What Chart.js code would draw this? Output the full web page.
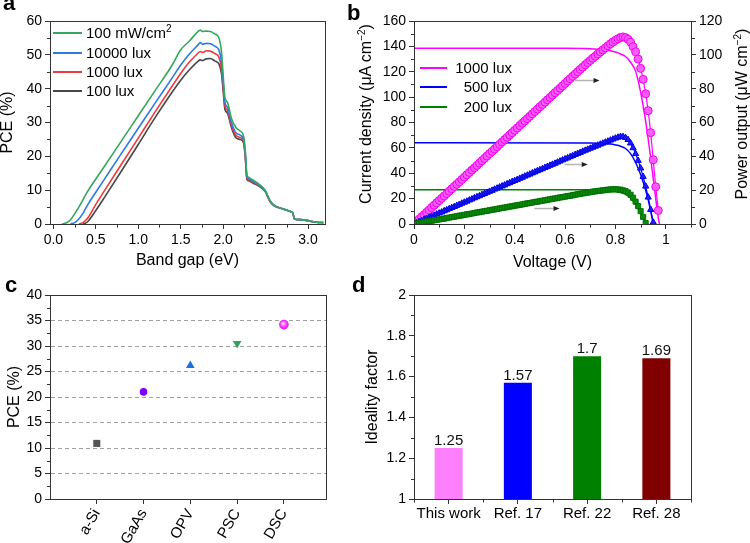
<!DOCTYPE html>
<html>
<head>
<meta charset="utf-8">
<script src="https://cdn.jsdelivr.net/npm/chart.js@4.4.1/dist/chart.umd.min.js"></script>
<style>
body { margin: 0; background: #fff; font-family: "Liberation Sans", Arial, sans-serif; color: #000; }
#fig { position: relative; width: 750px; height: 543px; overflow: hidden; }
canvas { position: absolute; }
.t { position: absolute; white-space: nowrap; line-height: 20px; font-size: 15px; }
.sw { position: absolute; height: 2px; }
.rot { position: absolute; width: 260px; height: 20px; line-height: 20px; text-align: center; font-size: 16px; transform: rotate(-90deg); white-space: nowrap; }
.lbl { position: absolute; font-weight: bold; font-size: 22px; line-height: 22px; }
sup { font-size: 10px; line-height: 0; vertical-align: super; }
</style>
</head>
<body>
<div id="fig">
  <canvas id="chartA" width="375" height="272" style="left:0;top:0"></canvas>
  <canvas id="chartB" width="395" height="272" style="left:355px;top:0"></canvas>
  <canvas id="chartC" width="375" height="273" style="left:0;top:270px"></canvas>
  <canvas id="chartD" width="395" height="273" style="left:355px;top:270px"></canvas>

  <div class="lbl" style="left:3px;top:-8px">a</div>
  <div class="lbl" style="left:347px;top:2px">b</div>
  <div class="lbl" style="left:5px;top:274px">c</div>
  <div class="lbl" style="left:352px;top:274px">d</div>

  <div class="sw" style="left:53px;top:32px;width:29px;background:#35a65f"></div>
  <div class="sw" style="left:53px;top:52px;width:29px;background:#2c7be5"></div>
  <div class="sw" style="left:53px;top:71px;width:29px;background:#f0393c"></div>
  <div class="sw" style="left:53px;top:90px;width:29px;background:#474747"></div>
  <div class="t" style="left:86px;top:23px">100 mW/cm<sup>2</sup></div>
  <div class="t" style="left:86px;top:43px">10000 lux</div>
  <div class="t" style="left:86px;top:62px">1000 lux</div>
  <div class="t" style="left:86px;top:81px">100 lux</div>

  <div class="sw" style="left:420px;top:67px;width:27px;background:#ff00ff"></div>
  <div class="sw" style="left:420px;top:86px;width:27px;background:#0000ff"></div>
  <div class="sw" style="left:420px;top:106px;width:27px;background:#008000"></div>
  <div class="t" style="left:440px;top:58px;width:72px;text-align:right">1000 lux</div>
  <div class="t" style="left:440px;top:77px;width:72px;text-align:right">500 lux</div>
  <div class="t" style="left:440px;top:97px;width:72px;text-align:right">200 lux</div>

  <div class="rot" style="left:236px;top:104px">Current density (μA cm<sup>−2</sup>)</div>
  <div class="rot" style="left:612px;top:104px">Power output (μW cm<sup>−2</sup>)</div>
</div>
<script>
const AXIS = "#333";
Chart.defaults.font.family = '"Liberation Sans", Arial, sans-serif';
Chart.defaults.font.size = 14;
Chart.defaults.color = "#000";

// ---- panel a: PCE limit vs band gap
const bandGap = [0, 0.1, 0.15, 0.2, 0.25, 0.3, 0.35, 0.4, 0.5, 0.6, 0.8, 1.0, 1.2, 1.4, 1.5, 1.6, 1.7,
    1.73, 1.76, 1.8, 1.85, 1.9, 1.95, 1.98, 2.0, 2.02, 2.05, 2.1, 2.15, 2.2, 2.24, 2.26, 2.28,
    2.3, 2.35, 2.4, 2.45, 2.5, 2.55, 2.6, 2.7, 2.8, 2.82, 2.84, 2.9, 3.0, 3.05, 3.1, 3.18];
const pceSun = [null, 0, 0.3, 1.2, 3, 5, 7.2, 9.5, 13.3, 17, 24.5, 32, 39.5, 47, 51.5, 54, 56.8,
    57.3, 56.9, 57, 56.9, 56.2, 55, 51, 44, 37.5, 36, 31, 28.5, 27.5, 26, 22, 14.5,
    13.8, 13, 12.2, 11.2, 9.8, 7, 5.6, 4.5, 3.6, 3.3, 1.5, 1.3, 1.0, 0.7, 0.5, 0.4];
const pce10000 = [null, null, null, 0, 0.4, 1.5, 3.2, 5.5, 9.4, 13.2, 20.8, 28.3, 35.8, 43.2, 47, 50.2, 52.8,
    53.6, 53.1, 53.4, 53.3, 52.6, 51.4, 48, 42, 36, 34.5, 29.8, 27, 26.3, 25, 21, 14,
    13.4, 12.6, 11.9, 11, 9.6, 6.9, 5.5, 4.5, 3.6, 3.3, 1.5, 1.3, 1.0, 0.7, 0.5, 0.4];
const pce1000 = [null, null, null, null, null, 0, 0.4, 1.6, 5.8, 9.8, 17.6, 25.4, 33.2, 40.8, 44.5, 47.8, 50.4,
    51, 50.7, 51.2, 51.1, 50.4, 49.3, 46, 40.5, 35, 33.6, 29, 26.2, 25.6, 24.5, 20.5, 13.6,
    13.1, 12.4, 11.7, 10.9, 9.5, 6.8, 5.5, 4.5, 3.6, 3.3, 1.5, 1.3, 1.0, 0.7, 0.5, 0.4];
const pce100 = [null, null, null, null, null, null, 0, 0.6, 4, 7.8, 15.6, 23.5, 31.5, 39, 42.5, 45.5, 48,
    48.5, 48.3, 48.8, 48.9, 48.2, 47.3, 44.5, 39.5, 34, 32.8, 28.3, 25.5, 25, 24, 20, 13.2,
    12.8, 12.1, 11.5, 10.7, 9.4, 6.7, 5.4, 4.5, 3.6, 3.3, 1.5, 1.3, 1.0, 0.7, 0.5, 0.4];
const bandGapTicks = [0, 0.5, 1, 1.5, 2, 2.5, 3];
const bandGapMinor = [0.25, 0.75, 1.25, 1.75, 2.25, 2.75];
const pceMinorA = [5, 15, 25, 35, 45, 55];

// ---- panel b: J-V and power curves
const voltage = [0, 0.01, 0.02, 0.03, 0.04, 0.05, 0.06, 0.07, 0.08, 0.09,
    0.1, 0.11, 0.12, 0.13, 0.14, 0.15, 0.16, 0.17, 0.18, 0.19,
    0.2, 0.21, 0.22, 0.23, 0.24, 0.25, 0.26, 0.27, 0.28, 0.29,
    0.3, 0.31, 0.32, 0.33, 0.34, 0.35, 0.36, 0.37, 0.38, 0.39,
    0.4, 0.41, 0.42, 0.43, 0.44, 0.45, 0.46, 0.47, 0.48, 0.49,
    0.5, 0.51, 0.52, 0.53, 0.54, 0.55, 0.56, 0.57, 0.58, 0.59,
    0.6, 0.61, 0.62, 0.63, 0.64, 0.65, 0.66, 0.67, 0.68, 0.69,
    0.7, 0.71, 0.72, 0.73, 0.74, 0.75, 0.76, 0.77, 0.78, 0.79,
    0.8, 0.81, 0.82, 0.83, 0.84, 0.85, 0.86, 0.87, 0.88, 0.89,
    0.9, 0.91, 0.92, 0.93, 0.94, 0.95, 0.96, 0.97];
const power1000 = [0, 1.4, 2.8, 4.2, 5.5, 6.9, 8.3, 9.7, 11.1, 12.5,
    13.9, 15.2, 16.6, 18, 19.4, 20.8, 22.2, 23.5, 24.9, 26.3,
    27.7, 29.1, 30.5, 31.9, 33.2, 34.6, 36, 37.4, 38.8, 40.2,
    41.6, 42.9, 44.3, 45.7, 47.1, 48.5, 49.9, 51.2, 52.6, 54,
    55.4, 56.8, 58.2, 59.6, 60.9, 62.3, 63.7, 65.1, 66.5, 67.9,
    69.3, 70.6, 72, 73.4, 74.8, 76.2, 77.6, 78.9, 80.3, 81.7,
    83.1, 84.5, 85.9, 87.3, 88.6, 90, 91.4, 92.7, 94.1, 95.4,
    96.7, 98, 99.2, 100.5, 101.7, 102.9, 104.1, 105.3, 106.5, 107.6,
    108.6, 109.5, 110.3, 110.6, 110.2, 109.2, 107.5, 104.8, 101.8, 97.5,
    92, 85.5, 77, 67, 54, 38, 22, 8];
const power500 = [0, 0.6, 1.3, 1.9, 2.6, 3.2, 3.8, 4.5, 5.1, 5.8,
    6.4, 7, 7.7, 8.3, 9, 9.6, 10.2, 10.9, 11.5, 12.2,
    12.8, 13.4, 14.1, 14.7, 15.4, 16, 16.6, 17.3, 17.9, 18.6,
    19.2, 19.8, 20.5, 21.1, 21.8, 22.4, 23, 23.7, 24.3, 25,
    25.6, 26.2, 26.9, 27.5, 28.2, 28.8, 29.4, 30.1, 30.7, 31.4,
    32, 32.6, 33.3, 33.9, 34.6, 35.2, 35.8, 36.5, 37.1, 37.8,
    38.4, 39, 39.7, 40.3, 41, 41.6, 42.2, 42.9, 43.5, 44.1,
    44.7, 45.3, 45.9, 46.5, 47.1, 47.7, 48.3, 48.9, 49.5, 50.1,
    50.7, 51.2, 51.6, 51.6, 51, 49.8, 47.8, 45, 41.5, 37.5,
    33, 28, 22.3, 15.8, 8.5, 1];
const power200 = [0, 0.3, 0.5, 0.8, 1.1, 1.4, 1.6, 1.9, 2.2, 2.4,
    2.7, 3, 3.2, 3.5, 3.8, 4.1, 4.3, 4.6, 4.9, 5.1,
    5.4, 5.7, 5.9, 6.2, 6.5, 6.8, 7, 7.3, 7.6, 7.8,
    8.1, 8.4, 8.6, 8.9, 9.2, 9.5, 9.7, 10, 10.3, 10.5,
    10.8, 11.1, 11.3, 11.6, 11.9, 12.2, 12.4, 12.7, 13, 13.2,
    13.5, 13.8, 14, 14.3, 14.6, 14.9, 15.1, 15.4, 15.7, 15.9,
    16.2, 16.5, 16.7, 17, 17.3, 17.6, 17.8, 18.1, 18.3, 18.6,
    18.8, 19.1, 19.3, 19.5, 19.7, 19.9, 20.1, 20.3, 20.4, 20.5,
    20.5, 20.4, 20.3, 19.9, 19.4, 18.6, 17.3, 15.5, 13.2, 10.6,
    7.6, 4.2, 0.5];
const jv1000V = [0, 0.6, 0.7, 0.75, 0.78, 0.8, 0.82, 0.84, 0.86, 0.88, 0.9, 0.91, 0.92, 0.93, 0.94, 0.95, 0.96, 0.97, 0.975];
const jv1000 = [138.5, 138.5, 138.2, 137.5, 136.5, 135.5, 134, 132, 127.5, 120.5, 104, 93, 81, 67, 52, 36, 20, 5, 0];
const jv500V = [0, 0.7, 0.75, 0.78, 0.8, 0.82, 0.84, 0.86, 0.88, 0.9, 0.91, 0.92, 0.93, 0.94, 0.95];
const jv500 = [64, 63.8, 63.5, 63, 62.3, 61.3, 59.5, 55.5, 48.5, 39, 33, 26.5, 19, 10, 0];
const jv200V = [0, 0.7, 0.75, 0.8, 0.84, 0.86, 0.88, 0.9, 0.91, 0.92];
const jv200 = [27, 26.9, 26.7, 25.8, 23.5, 20.5, 15.5, 8.6, 4.6, 0.5];
const voltTicks = [0, 0.2, 0.4, 0.6, 0.8, 1];
const voltMinor = [0.1, 0.3, 0.5, 0.7, 0.9, 1.1];
const currentMinor = [10, 30, 50, 70, 90, 110, 130, 150];
const powerMinor = [10, 30, 50, 70, 90, 110];
// arrows pointing at the right axis: [V start, V end, current-axis level]
const arrowSpots = [[0.637, 0.737, 113.5], [0.598, 0.69, 47.3], [0.478, 0.578, 12.6]];

// ---- panel c: PCE of indoor technologies
const techs = ["a-Si", "GaAs", "OPV", "PSC", "DSC"];
const techPce = [10.9, 21, 26.2, 30.5, 34.2];
const techPos = [1, 2, 3, 4, 5];
const pceMinorC = [2.5, 7.5, 12.5, 17.5, 22.5, 27.5, 32.5, 37.5];

// ---- panel d: ideality factor
const works = ["This work", "Ref. 17", "Ref. 22", "Ref. 28"];
const ideality = [1.25, 1.57, 1.7, 1.69];
const idealityText = ["1.25", "1.57", "1.7", "1.69"];
const idealityMinor = [1.1, 1.3, 1.5, 1.7, 1.9];
const workEdges = [-0.5, 0.5, 1.5, 2.5, 3.5];

const frame = {
    id: "frame",
    afterDraw(chart, args, opts) {
        const { ctx, chartArea: ca } = chart;
        ctx.save();
        ctx.strokeStyle = AXIS;
        ctx.lineWidth = 1;
        ctx.strokeRect(ca.left + 0.5, ca.top + 0.5, ca.right - ca.left, ca.bottom - ca.top);
        (opts.minor || []).forEach(([id, vals]) => {
            const s = chart.scales[id];
            ctx.beginPath();
            vals.forEach((v) => {
                const p = Math.round(s.getPixelForValue(v)) + 0.5;
                if (s.isHorizontal()) {
                    ctx.moveTo(p, ca.bottom); ctx.lineTo(p, ca.bottom + 3.5);
                } else if (s.position === "left") {
                    ctx.moveTo(ca.left, p); ctx.lineTo(ca.left - 3, p);
                } else {
                    ctx.moveTo(ca.right + 1, p); ctx.lineTo(ca.right + 4, p);
                }
            });
            ctx.stroke();
        });
        ctx.restore();
    },
};

const arrows = {
    id: "arrows",
    afterDatasetsDraw(chart) {
        const { ctx, scales } = chart;
        ctx.save();
        arrowSpots.forEach(([v1, v2, j]) => {
            const x1 = scales.x.getPixelForValue(v1);
            const x2 = scales.x.getPixelForValue(v2);
            const y = Math.round(scales.y.getPixelForValue(j)) + 0.5;
            ctx.strokeStyle = "#b5b5b5";
            ctx.lineWidth = 1.5;
            ctx.beginPath(); ctx.moveTo(x1, y); ctx.lineTo(x2 - 4, y); ctx.stroke();
            ctx.fillStyle = "#222";
            ctx.beginPath(); ctx.moveTo(x2, y); ctx.lineTo(x2 - 6, y - 2.5); ctx.lineTo(x2 - 6, y + 2.5); ctx.closePath(); ctx.fill();
        });
        ctx.restore();
    },
};

const barText = {
    id: "barText",
    afterDatasetsDraw(chart) {
        const { ctx } = chart;
        ctx.save();
        ctx.font = '15px "Liberation Sans", Arial, sans-serif';
        ctx.fillStyle = "#111";
        ctx.textAlign = "center";
        ctx.textBaseline = "alphabetic";
        chart.getDatasetMeta(0).data.forEach((bar, i) => ctx.fillText(idealityText[i], bar.x, bar.y - 3));
        ctx.restore();
    },
};

const base = {
    responsive: false,
    animation: false,
    devicePixelRatio: 1,
    events: [],
};

function axis(size, extra) {
    const horizontal = size.height !== undefined;
    return Object.assign({
        afterFit: (s) => { if (horizontal) s.height = size.height; else s.width = size.width; },
        grid: { drawOnChartArea: false, tickLength: 5, tickColor: AXIS, color: AXIS },
        border: { color: AXIS, width: 1 },
        ticks: { padding: 3, color: "#000", font: { size: 14 } },
    }, extra);
}

function title(text, pad, pos) {
    return { display: true, text, font: { size: 16, lineHeight: 1 }, padding: pos === "x" ? { top: 0, bottom: pad } : { top: pad, bottom: 0 } };
}

const pts = (xs, ys) => xs.map((x, i) => ({ x, y: ys[i] })).filter((p) => p.y !== null && p.y !== undefined);

// panel a
new Chart(document.getElementById("chartA"), {
    type: "line",
    data: {
        datasets: [
            { data: pts(bandGap, pceSun), borderColor: "#35a65f" },
            { data: pts(bandGap, pce10000), borderColor: "#2c7be5" },
            { data: pts(bandGap, pce1000), borderColor: "#f0393c" },
            { data: pts(bandGap, pce100), borderColor: "#474747" },
        ].map((d) => ({ ...d, borderWidth: 1.6, pointRadius: 0, cubicInterpolationMode: "monotone", fill: false })),
    },
    options: {
        ...base,
        layout: { padding: { left: 0, top: 21, right: 50, bottom: 0 } },
        plugins: { legend: { display: false }, tooltip: { enabled: false }, frame: { minor: [["x", bandGapMinor], ["y", pceMinorA]] } },
        scales: {
            x: axis({ height: 48 }, {
                type: "linear", min: -0.04, max: 3.2,
                afterBuildTicks: (s) => { s.ticks = bandGapTicks.map((value) => ({ value })); },
                ticks: { padding: 3, color: "#000", font: { size: 14 }, callback: (v) => v.toFixed(1) },
                title: title("Band gap (eV)", 3, "x"),
            }),
            y: axis({ width: 50 }, {
                min: 0, max: 60,
                ticks: { padding: 3, color: "#000", font: { size: 14 }, stepSize: 10 },
                title: title("PCE (%)", 0, "y"),
            }),
        },
    },
    plugins: [frame],
});

// panel b
const jvStyle = { borderWidth: 1.5, pointRadius: 0, cubicInterpolationMode: "monotone", yAxisID: "y" };
const pStyle = { borderWidth: 1.2, yAxisID: "y2", pointBorderWidth: 1 };
new Chart(document.getElementById("chartB"), {
    type: "line",
    data: {
        datasets: [
            { ...pStyle, data: pts(voltage, power200), borderColor: "#008000", pointStyle: "rect", pointRadius: 3.6, pointBackgroundColor: "#0a8a0a", pointBorderColor: "#007000" },
            { ...pStyle, data: pts(voltage, power500), borderColor: "#0000ff", pointStyle: "triangle", pointRadius: 3.6, pointBackgroundColor: "#2020ff", pointBorderColor: "#0000e0" },
            { ...pStyle, data: pts(voltage, power1000), borderColor: "#ff00ff", pointStyle: "circle", pointRadius: 4, pointBackgroundColor: "#ff5cff", pointBorderColor: "#f000f0" },
            { ...jvStyle, data: pts(jv1000V, jv1000), borderColor: "#ff00ff" },
            { ...jvStyle, data: pts(jv500V, jv500), borderColor: "#0000ff" },
            { ...jvStyle, data: pts(jv200V, jv200), borderColor: "#008000" },
        ],
    },
    options: {
        ...base,
        layout: { padding: { left: 0, top: 21, right: 0, bottom: 0 } },
        plugins: { legend: { display: false }, tooltip: { enabled: false }, frame: { minor: [["x", voltMinor], ["y", currentMinor], ["y2", powerMinor]] } },
        scales: {
            x: axis({ height: 48 }, {
                type: "linear", min: 0, max: 1.1,
                afterBuildTicks: (s) => { s.ticks = voltTicks.map((value) => ({ value })); },
                ticks: { padding: 3, color: "#000", font: { size: 14 }, callback: (v) => String(Math.round(v * 10) / 10) },
                title: title("Voltage (V)", 1, "x"),
            }),
            y: axis({ width: 59 }, { min: 0, max: 160, ticks: { padding: 3, color: "#000", font: { size: 14 }, stepSize: 20 } }),
            y2: axis({ width: 59 }, { position: "right", min: 0, max: 120, ticks: { padding: 3, color: "#000", font: { size: 14 }, stepSize: 20 } }),
        },
    },
    plugins: [frame, arrows],
});

// panel c
const techColors = ["#555555", "#8000ff", "#1f6fe0", "#33a060", "#ff00ff"];
new Chart(document.getElementById("chartC"), {
    type: "scatter",
    data: {
        datasets: [{
            data: pts(techPos, techPce),
            pointStyle: ["rect", "circle", "triangle", "triangle", "circle"],
            rotation: [0, 0, 0, 180, 0],
            radius: [5, 3.8, 5, 5, 4.8],
            borderWidth: 0,
            backgroundColor: (c) => {
                if (c.dataIndex !== 4 || !c.chart.chartArea) return techColors[c.dataIndex];
                const { x, y } = c.chart.scales;
                const px = x.getPixelForValue(techPos[4]);
                const py = y.getPixelForValue(techPce[4]);
                const g = c.chart.ctx.createRadialGradient(px - 1, py - 1.5, 0.3, px, py, 5);
                g.addColorStop(0, "#ffe6ff");
                g.addColorStop(0.45, "#ff55ff");
                g.addColorStop(1, "#e600e6");
                return g;
            },
        }],
    },
    options: {
        ...base,
        layout: { padding: { left: 0, top: 25, right: 49, bottom: 0 } },
        plugins: { legend: { display: false }, tooltip: { enabled: false }, frame: { minor: [["y", pceMinorC]] } },
        scales: {
            x: axis({ height: 44 }, {
                type: "linear", min: 0, max: 5.9,
                afterBuildTicks: (s) => { s.ticks = techPos.map((value) => ({ value })); },
                ticks: { padding: 2, color: "#000", font: { size: 15 }, autoSkip: false, minRotation: 60, maxRotation: 60, callback: (v) => techs[techPos.indexOf(v)] },
            }),
            y: axis({ width: 50 }, {
                min: 0, max: 40,
                grid: {
                    drawOnChartArea: true, tickLength: 5, tickColor: AXIS,
                    color: (c) => (c.tick && c.tick.value > 0 && c.tick.value < 40 ? "#a0a0a0" : "rgba(0,0,0,0)"),
                },
                border: { color: AXIS, width: 1, dash: [4, 3] },
                ticks: { padding: 3, color: "#000", font: { size: 14 }, stepSize: 5 },
                title: title("PCE (%)", 7, "y"),
            }),
        },
    },
    plugins: [frame],
});

// panel d
new Chart(document.getElementById("chartD"), {
    type: "bar",
    data: {
        labels: works,
        datasets: [{
            data: ideality,
            backgroundColor: ["#ff80ff", "#0000ff", "#008000", "#800000"],
            borderWidth: 0,
            barPercentage: 0.405,
            categoryPercentage: 1,
        }],
    },
    options: {
        ...base,
        layout: { padding: { left: 0, top: 25, right: 59, bottom: 0 } },
        plugins: { legend: { display: false }, tooltip: { enabled: false }, frame: { minor: [["x", workEdges], ["y", idealityMinor]] } },
        scales: {
            x: axis({ height: 44 }, {
                grid: { drawOnChartArea: false, offset: false, tickLength: 5, tickColor: AXIS, color: AXIS },
                ticks: { padding: 1, color: "#000", font: { size: 15 }, autoSkip: false, minRotation: 0, maxRotation: 0 },
            }),
            y: axis({ width: 59 }, {
                min: 1, max: 2,
                ticks: { padding: 3, color: "#000", font: { size: 14 }, stepSize: 0.2, callback: (v) => String(Math.round(v * 10) / 10) },
                title: title("Ideality factor", 10, "y"),
            }),
        },
    },
    plugins: [frame, barText],
});
</script>
</body>
</html>
